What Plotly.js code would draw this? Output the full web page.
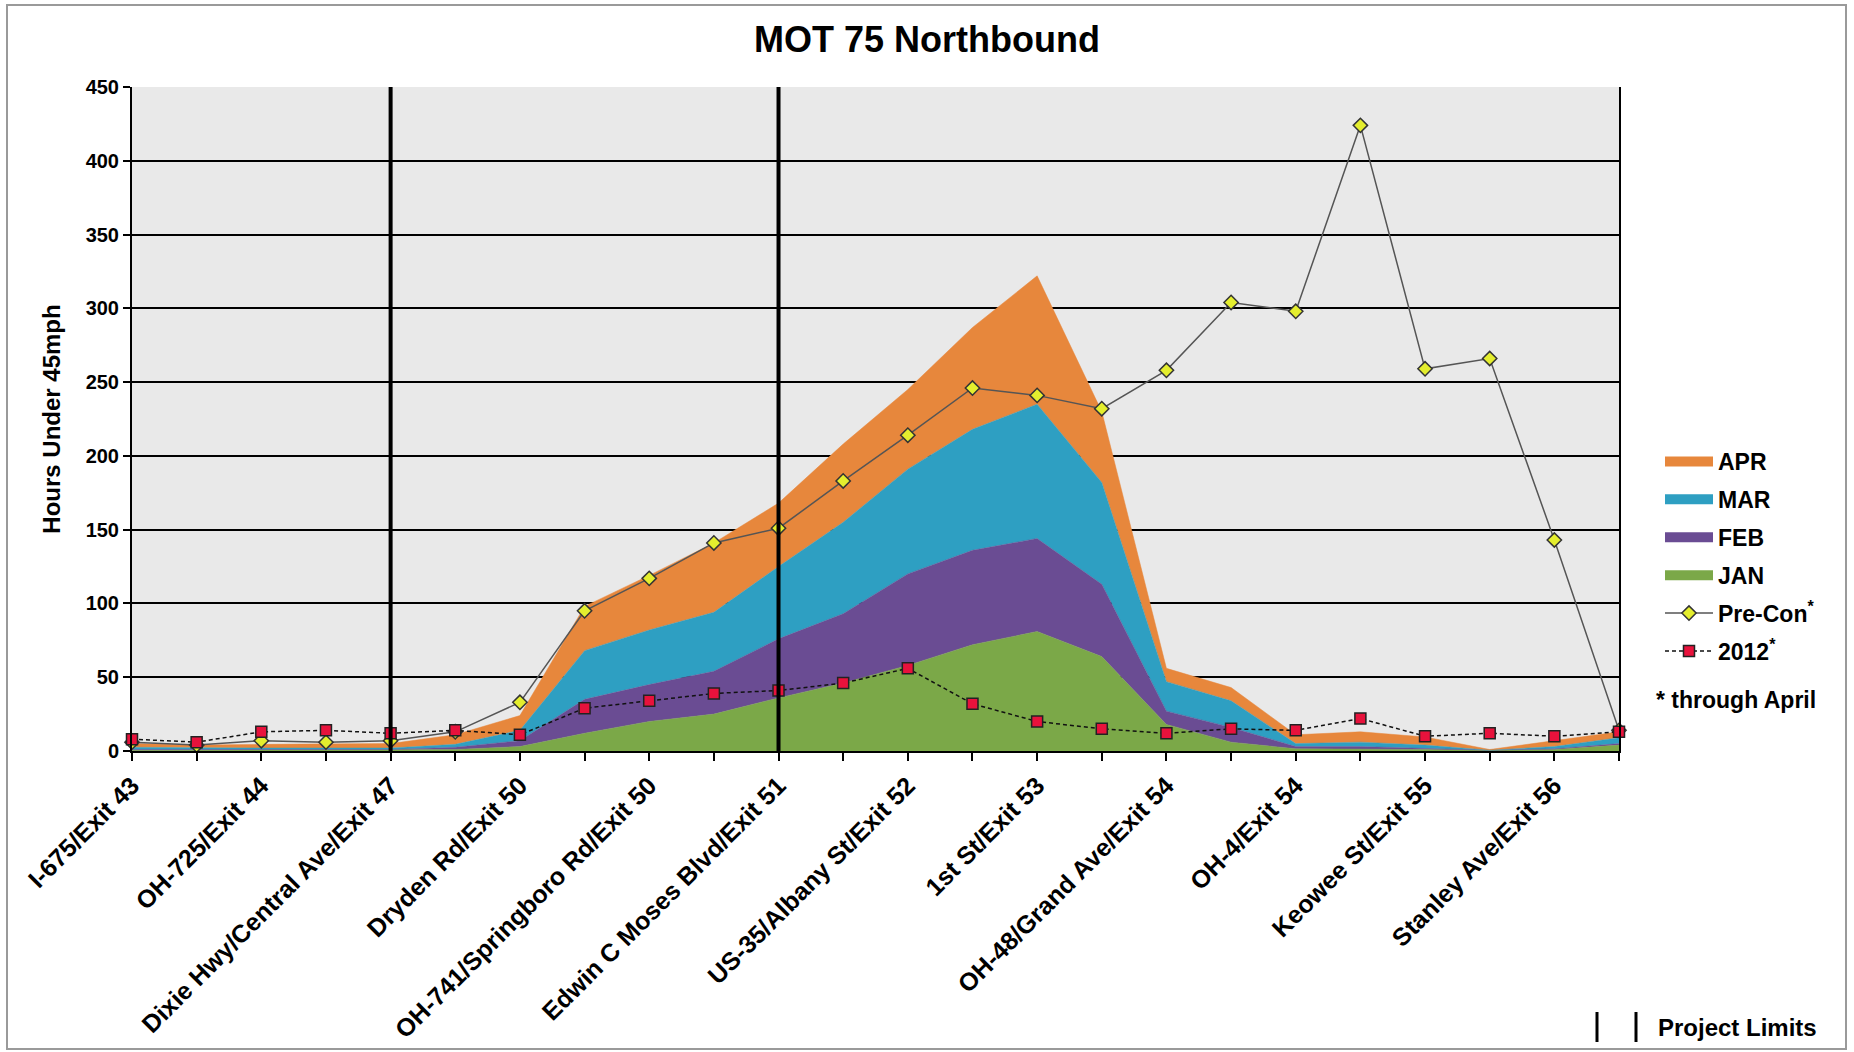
<!DOCTYPE html>
<html>
<head>
<meta charset="utf-8">
<script src="https://cdn.plot.ly/plotly-3.0.1.min.js"></script>
<style>
  html, body { margin: 0; padding: 0; background: #ffffff; }
  #chart { width: 1854px; height: 1052px; }
</style>
</head>
<body>
<div id="chart"></div>
<script>
// ---- Data ----
// 24 freeway segments, labelled at every other point
const segmentLabels = [
  "I-675/Exit 43", "",
  "OH-725/Exit 44", "",
  "Dixie Hwy/Central Ave/Exit 47", "",
  "Dryden Rd/Exit 50", "",
  "OH-741/Springboro Rd/Exit 50", "",
  "Edwin C Moses Blvd/Exit 51", "",
  "US-35/Albany St/Exit 52", "",
  "1st St/Exit 53", "",
  "OH-48/Grand Ave/Exit 54", "",
  "OH-4/Exit 54", "",
  "Keowee St/Exit 55", "",
  "Stanley Ave/Exit 56", ""
];

// Monthly hours under 45 mph (stacked areas)
const janHours = [0.5,0.5,0.5,0.5,0.5,1,3,12,20,25,36,46,58,72,81,64,18,6,1.5,1.5,1,0.5,1,4];
const febHours = [0.5,0.5,0.5,0.5,0.5,1.5,4,23,25,29,40,47,62,64,63,49,9,10,1.5,1.5,1,0,0.5,1];
const marHours = [1.5,1,1,1,1,2,7,33,37,40,49,62,71,82,91,69,20,18,2,3,2,0,1.5,4];
const aprHours = [2.5,2,2.5,3,3,6.5,10,30,37,47,43,53,54,69,87,48,9,9,6,7,5.5,0.5,4,4];

// Comparison lines (through April)
const preConHours = [6,4,7,6,7,13,33,95,117,141,151,183,214,246,241,232,258,304,298,424,259,266,143,14];
const y2012Hours  = [8,6,13,14,12,14,11,29,34,39,41,46,56,32,20,15,12,15,14,22,10,12,10,13];

// Project limits (segment index)
const projectLimitIdx = [4, 10];

const yTicks = [0, 50, 100, 150, 200, 250, 300, 350, 400, 450];

// ---- Chart ----
const xIdx = segmentLabels.map((_, i) => i);
const FONT = "Liberation Sans, Arial, sans-serif";

const monthColors = { JAN: "#7BA848", FEB: "#6A4C93", MAR: "#2E9FC2", APR: "#E7873C" };

function area(name, y) {
  return {
    type: "scatter", mode: "lines", name: name, x: xIdx, y: y,
    stackgroup: "months", fillcolor: monthColors[name],
    line: { color: monthColors[name], width: 0.5 },
    showlegend: false
  };
}
// legend-only swatches (thick bars like the original key)
function swatch(name, rank) {
  return {
    type: "scatter", mode: "lines", name: name, x: [null], y: [null],
    line: { color: monthColors[name], width: 14 },
    legendrank: rank, legendgroup: name
  };
}

const traces = [
  area("JAN", janHours),
  area("FEB", febHours),
  area("MAR", marHours),
  area("APR", aprHours),
  swatch("APR", 1), swatch("MAR", 2), swatch("FEB", 3), swatch("JAN", 4),
  {
    type: "scatter", mode: "lines+markers", name: "Pre-Con<sup>*</sup>",
    x: xIdx, y: preConHours, cliponaxis: false,
    line: { color: "#555555", width: 1.5 },
    marker: { symbol: "diamond", size: 11, color: "#E4EE2E", line: { color: "#333333", width: 1.5 } },
    legendrank: 5, legendgroup: "pre"
  },
  {
    type: "scatter", mode: "lines+markers", name: "2012<sup>*</sup>",
    x: xIdx, y: y2012Hours, cliponaxis: false,
    line: { color: "#111111", width: 1.5, dash: "4px,3px" },
    marker: { symbol: "square", size: 11, color: "#E8123C", line: { color: "#222222", width: 1.5 } },
    legendrank: 6, legendgroup: "y2012"
  }
];

// plot area in pixels: left 132, right 1619, top 87, bottom 751
const L = 132, R = 1619, T = 87, B = 751;
const px = v => (v - L) / (R - L);
const py = v => (B - v) / (B - T);

const shapes = projectLimitIdx.map(i => ({
  type: "line", xref: "x", yref: "y", x0: i, x1: i, y0: 0, y1: 450,
  line: { color: "#000000", width: 4 }, layer: "above"
}));
// outer chart border
shapes.push({
  type: "rect", xref: "paper", yref: "paper",
  x0: px(7), x1: px(1846), y0: py(1049), y1: py(5),
  line: { color: "#9a9a9a", width: 2 }, layer: "below"
});
// "Project Limits" key bars
[1597, 1636].forEach(xp => shapes.push({
  type: "line", xref: "paper", yref: "paper",
  x0: px(xp), x1: px(xp), y0: py(1012), y1: py(1042),
  line: { color: "#000000", width: 3 }
}));

const layout = {
  width: 1854, height: 1052,
  paper_bgcolor: "#ffffff", plot_bgcolor: "#E9E9E9",
  margin: { l: L, r: 1854 - R, t: T, b: 1052 - B, pad: 0 },
  font: { family: FONT, color: "#000000" },
  title: {
    text: "MOT 75 Northbound", x: 0.5, xanchor: "center",
    y: 1 - 39 / 1052, yanchor: "middle",
    font: { family: FONT, size: 36, weight: "bold", color: "#000000" }
  },
  xaxis: {
    type: "linear", range: [0, 23], tickmode: "array",
    tickvals: xIdx, ticktext: segmentLabels, tickangle: -45,
    ticks: "outside", ticklen: 8, tickwidth: 2, tickcolor: "#000000",
    showgrid: false, zeroline: false, showline: true, linecolor: "#000000", linewidth: 2,
    tickfont: { family: FONT, size: 25, weight: "bold", color: "#000000" },
    fixedrange: true
  },
  yaxis: {
    range: [0, 450], tickmode: "array", tickvals: yTicks,
    ticks: "outside", ticklen: 7, tickwidth: 2, tickcolor: "#000000",
    showgrid: true, gridcolor: "#000000", gridwidth: 2,
    zeroline: false, showline: true, mirror: true, linecolor: "#000000", linewidth: 2,
    tickfont: { family: FONT, size: 20, weight: "bold", color: "#000000" },
    title: { text: "Hours Under 45mph", standoff: 18,
             font: { family: FONT, size: 24, weight: "bold", color: "#000000" } },
    fixedrange: true
  },
  showlegend: true,
  legend: {
    x: px(1660), xanchor: "left", y: py(440), yanchor: "top",
    traceorder: "grouped", tracegroupgap: 5, itemwidth: 48,
    bgcolor: "rgba(0,0,0,0)",
    font: { family: FONT, size: 23, weight: "bold", color: "#000000" }
  },
  shapes: shapes,
  annotations: [
    {
      text: "* through April", xref: "paper", yref: "paper",
      x: px(1654), y: py(700), xanchor: "left", yanchor: "middle", showarrow: false,
      font: { family: FONT, size: 23, weight: "bold", color: "#000000" }
    },
    {
      text: "Project Limits", xref: "paper", yref: "paper",
      x: px(1656), y: py(1027), xanchor: "left", yanchor: "middle", showarrow: false,
      font: { family: FONT, size: 24, weight: "bold", color: "#000000" }
    }
  ]
};

Plotly.newPlot("chart", traces, layout, { displayModeBar: false, staticPlot: true });
</script>
</body>
</html>
